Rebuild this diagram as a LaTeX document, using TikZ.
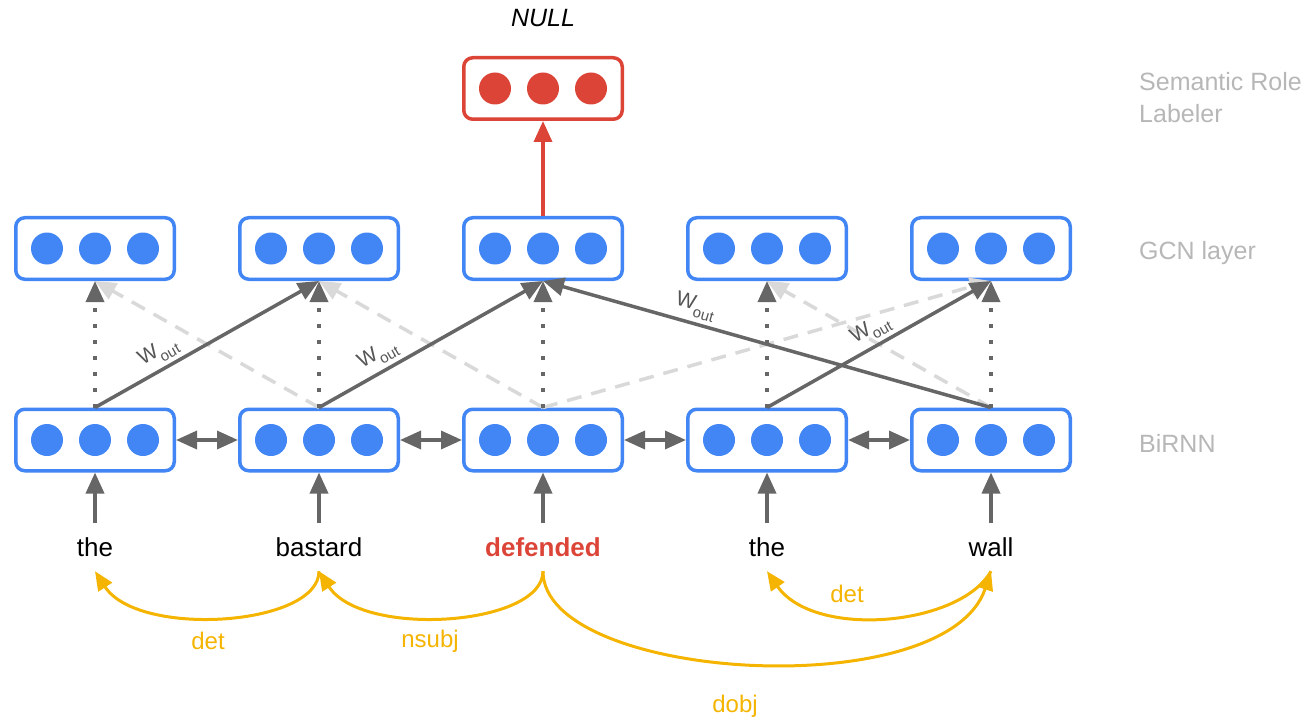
\documentclass[tikz,border=0pt]{standalone}
\usepackage{fontspec}
\setmainfont{Liberation Sans}
\usetikzlibrary{arrows.meta}
\definecolor{gblue}{HTML}{4285F4}
\definecolor{gred}{HTML}{DB4437}
\definecolor{gyellow}{HTML}{F4B400}
\definecolor{dgray}{HTML}{666666}
\definecolor{lgray}{HTML}{D9D9D9}
\definecolor{lblgray}{HTML}{B7B7B7}
\definecolor{wgray}{HTML}{555555}
\begin{document}
\begin{tikzpicture}[x=1pt,y=-1pt,
  vec/.style={draw=gblue, line width=3.5pt, rounded corners=9pt, fill=white, minimum width=158.5pt, minimum height=61.5pt, inner sep=0pt},
  redvec/.style={vec, draw=gred},
  word/.style={inner sep=0pt, minimum height=48pt, font=\fontsize{26}{30}\selectfont},
  layer/.style={inner sep=0pt, text=lblgray, font=\fontsize{25}{32}\selectfont, align=left},
  tip/.style={-{Triangle[length=21pt,width=18pt]}},
  uparrow/.style={draw=dgray, line width=3.5pt, tip},
  dotarrow/.style={uparrow, dash pattern=on 4pt off 12pt},
  dasharrow/.style={draw=lgray, line width=3.5pt, dash pattern=on 15pt off 10pt, tip},
  biarrow/.style={draw=dgray, line width=3.5pt, {Triangle[length=21pt,width=18pt]}-{Triangle[length=21pt,width=18pt]}},
  dep/.style={draw=gyellow, line width=3pt, -{Triangle[length=19pt,width=16pt]}},
  deplabel/.style={inner sep=0pt, text=gyellow, font=\fontsize{24}{28}\selectfont},
  wlabel/.style={text=wgray, font=\fontsize{21}{24}\selectfont, sloped, above, inner sep=4pt}
]
\useasboundingbox (0,0) rectangle (1314,722);
\newcommand{\wout}{W\raisebox{-7pt}{\fontsize{15}{15}\selectfont out}}

% boxes
\foreach \i/\x in {1/95,2/319,3/543,4/767,5/991} {
  \node[vec] (g\i) at (\x,248.5) {};
  \node[vec] (b\i) at (\x,440) {};
}
\node[redvec] (r) at (543,88.5) {};

\foreach \n in {g1,g2,g3,g4,g5,b1,b2,b3,b4,b5} {
  \foreach \dx in {-48,0,48} {
    \fill[gblue] ([xshift=\dx pt]\n.center) circle[radius=16pt];
  }
}
\foreach \dx in {-48,0,48} {
  \fill[gred] ([xshift=\dx pt]r.center) circle[radius=16pt];
}

% words
\node[word] (w1) at (95,547) {the};
\node[word] (w2) at (319,547) {bastard};
\node[word, text=gred, font=\fontsize{26}{30}\selectfont\bfseries] (w3) at (543,547) {defended};
\node[word] (w4) at (767,547) {the};
\node[word] (w5) at (991,547) {wall};

\node[inner sep=0pt, anchor=base, font=\fontsize{25}{30}\selectfont\itshape] (null) at (543,27) {NULL};

% layer labels
\node[layer, anchor=west] (lsrl) at (1139,98) {Semantic Role\\Labeler};
\node[layer, anchor=base west] (lgcn) at (1139,259) {GCN layer};
\node[layer, anchor=base west] (lrnn) at (1139,452) {BiRNN};

% light dashed edges
\draw[dasharrow] (b2.north) -- (g1.south);
\draw[dasharrow] (b3.north) -- (g2.south);
\draw[dasharrow] (b3.north) -- (g5.south);
\draw[dasharrow] (b5.north) -- (g4.south);

% dotted self loops
\foreach \i in {1,...,5} {
  \draw[dotarrow] (b\i.north) -- (g\i.south);
}

% solid W_out edges
\draw[uparrow] (b1.north) -- node[wlabel, pos=0.32] {\wout} (g2.south);
\draw[uparrow] (b2.north) -- node[wlabel, pos=0.3] {\wout} (g3.south);
\draw[uparrow] (b5.north) -- node[wlabel, pos=0.67] {\wout} (g3.south);
\draw[uparrow] (b4.north) -- node[wlabel, pos=0.5] {\wout} (g5.south);

% BiRNN links
\draw[biarrow] (b1.east) -- (b2.west);
\draw[biarrow] (b2.east) -- (b3.west);
\draw[biarrow] (b3.east) -- (b4.west);
\draw[biarrow] (b4.east) -- (b5.west);

% word inputs
\foreach \i in {1,...,5} {
  \draw[uparrow] (w\i.north) -- (b\i.south);
}

% to SRL
\draw[draw=gred, line width=3.5pt, tip] (g3.north) -- (r.south);

% dependency arcs
\draw[dep] (w2.south) .. controls +(0,55) and +(43,67) .. (w1.south);
\draw[dep] (w3.south) .. controls +(0,55) and +(43,67) .. (w2.south);
\draw[dep] (w3.south) .. controls +(0,110) and +(-45,135) .. (w5.south);
\draw[dep] (w5.south) .. controls +(-31,55) and +(47,68) .. (w4.south);

\node[deplabel] (ldet1) at (208,641) {det};
\node[deplabel] (lnsubj) at (430,641) {nsubj};
\node[deplabel] (ldobj) at (735,706) {dobj};
\node[deplabel] (ldet2) at (847,594) {det};
\end{tikzpicture}
\end{document}
